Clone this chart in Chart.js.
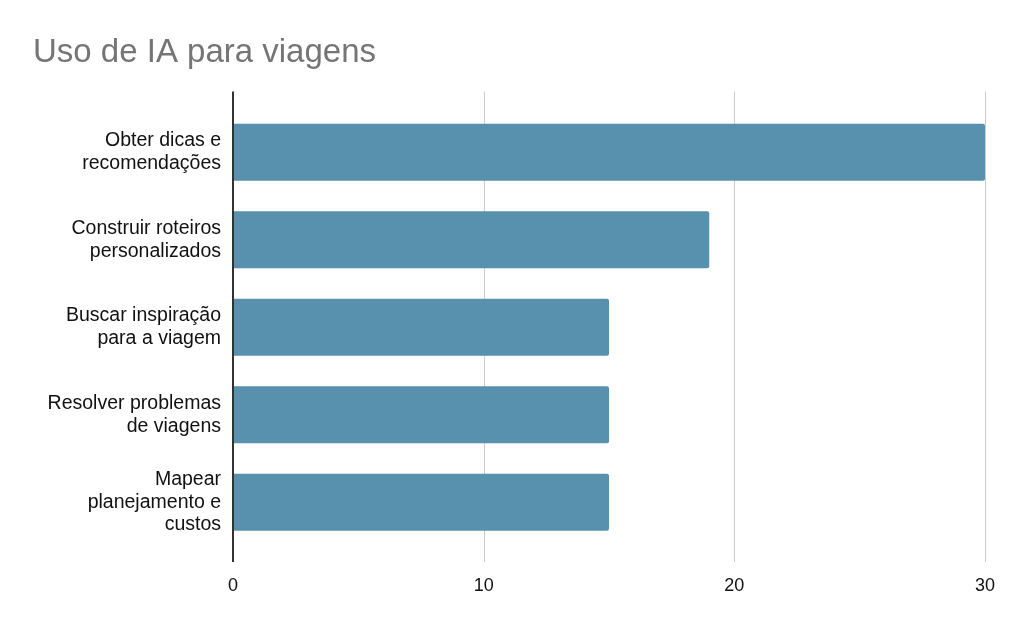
<!DOCTYPE html>
<html>
<head>
<meta charset="utf-8">
<script src="https://cdn.jsdelivr.net/npm/chart.js@4/dist/chart.umd.min.js"></script>
<style>
  html, body { margin: 0; padding: 0; background: #fff; }
  #chart { display: block; }
</style>
</head>
<body>
<canvas id="chart" width="1016" height="628"></canvas>
<script>
// dados
var categorias = [
    ["Obter dicas e", "recomendações"],
    ["Construir roteiros", "personalizados"],
    ["Buscar inspiração", "para a viagem"],
    ["Resolver problemas", "de viagens"],
    ["Mapear", "planejamento e", "custos"]
];
var valores = [30, 19, 15, 15, 15];
var eixoMin = 0, eixoMax = 30, eixoPasso = 10;

var fonte = '"Liberation Sans", Arial, sans-serif';

// linhas verticais da grade um pouco mais longas que a área das barras
var gradePlugin = {
    id: 'grade',
    beforeDatasetsDraw: function (chart) {
        var c = chart.ctx, a = chart.chartArea, x = chart.scales.x;
        c.save();
        c.strokeStyle = '#cccccc';
        c.lineWidth = 1;
        x.ticks.forEach(function (t) {
            if (t.value === 0) return;
            var px = Math.round(x.getPixelForValue(t.value)) + 0.5;
            c.beginPath();
            c.moveTo(px, a.top - 17);
            c.lineTo(px, a.bottom + 16);
            c.stroke();
        });
        c.restore();
    },
    afterDatasetsDraw: function (chart) {
        var c = chart.ctx, a = chart.chartArea, x = chart.scales.x;
        var px = Math.round(x.getPixelForValue(0));
        c.save();
        c.strokeStyle = '#333333';
        c.lineWidth = 2;
        c.beginPath();
        c.moveTo(px, a.top - 17);
        c.lineTo(px, a.bottom + 16);
        c.stroke();
        c.restore();
    }
};

var ctx = document.getElementById("chart");
var grafico = new Chart(ctx, {
    type: 'bar',
    data: {
        labels: categorias,
        datasets: [{
            data: valores,
            backgroundColor: '#5891ae',
            borderRadius: 2,
            borderSkipped: 'start',
            barPercentage: 0.652,
            categoryPercentage: 1
        }]
    },
    options: {
        indexAxis: 'y',
        responsive: false,
        animation: false,
        layout: { padding: { left: 33, right: 31, top: 0, bottom: 0 } },
        plugins: {
            legend: { display: false },
            tooltip: { enabled: false },
            title: {
                display: true,
                text: 'Uso de IA para viagens',
                align: 'start',
                color: '#757575',
                font: { family: fonte, size: 33, weight: 'normal', lineHeight: 1.2 },
                padding: { top: 33, bottom: 36 }
            }
        },
        scales: {
            x: {
                min: eixoMin,
                max: eixoMax,
                grid: { display: false, drawTicks: false },
                border: { display: false },
                afterFit: function (scale) {
                    scale.height = 82;
                    scale.paddingLeft = 0;
                    scale.paddingRight = 0;
                },
                ticks: {
                    stepSize: eixoPasso,
                    padding: 29,
                    color: '#111111',
                    font: { family: fonte, size: 18, lineHeight: 1.2 }
                }
            },
            y: {
                grid: { display: false, drawTicks: false },
                border: { display: false },
                afterFit: function (scale) { scale.width = 200; },
                ticks: {
                    padding: 12,
                    color: '#111111',
                    font: { family: fonte, size: 19.5, lineHeight: 1.17 }
                }
            }
        }
    },
    plugins: [gradePlugin]
});
</script>
</body>
</html>
